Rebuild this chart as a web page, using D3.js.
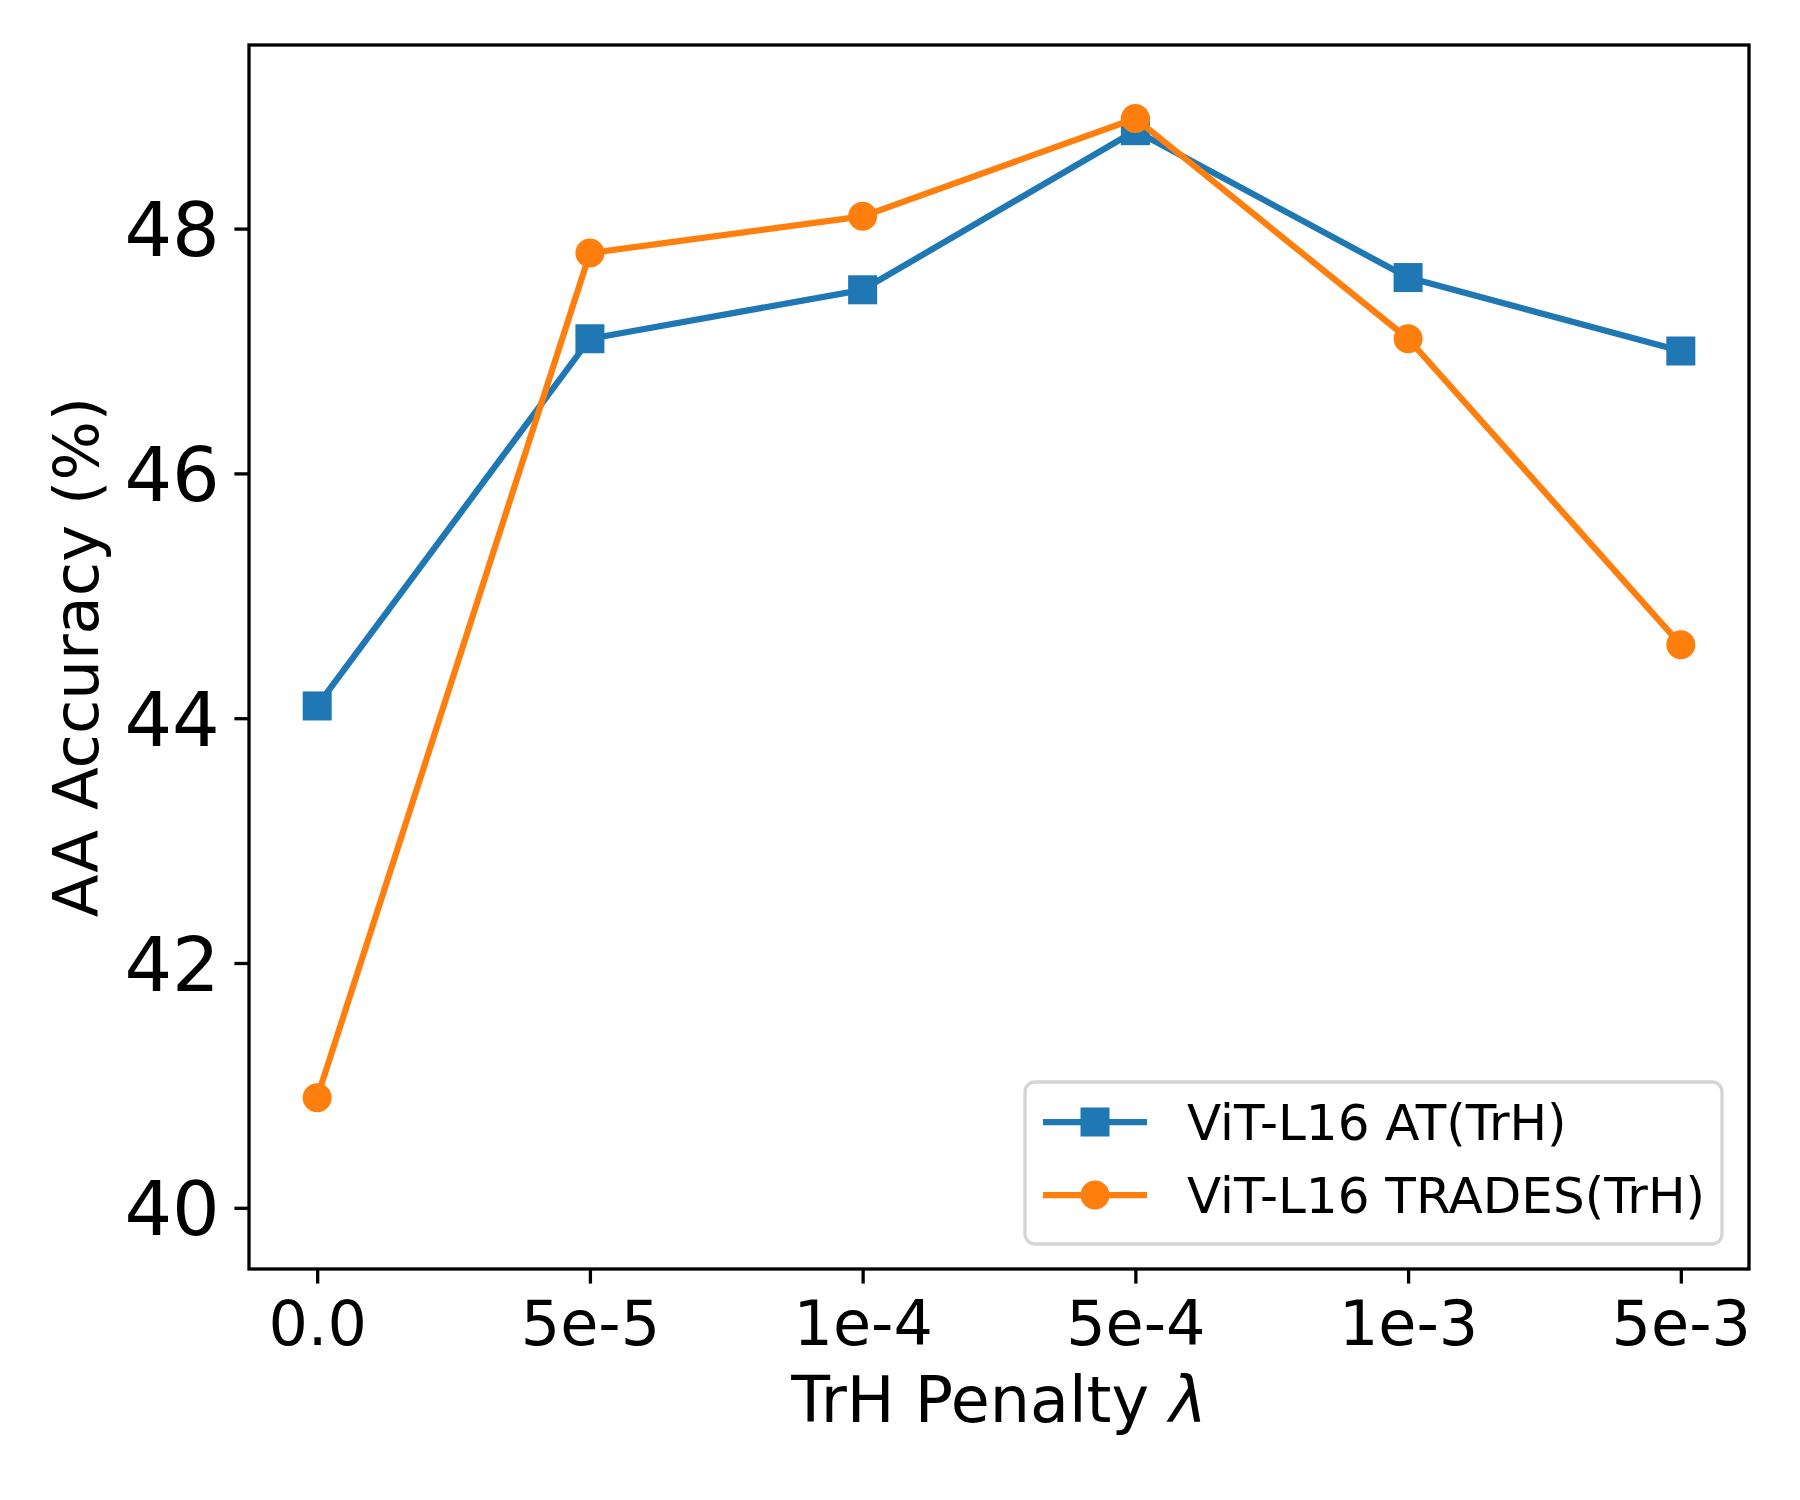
<!DOCTYPE html>
<html>
<head>
<meta charset="utf-8">
<script src="https://cdn.jsdelivr.net/npm/d3@7"></script>
<style>
  html, body { margin: 0; padding: 0; background: #fff; }
  svg { display: block; }
  text { font-family: "DejaVu Sans", sans-serif; fill: #000; }
</style>
</head>
<body>
<svg id="chart" width="1800" height="1500"></svg>
<script>
// ---- data ----
const categories = ["0.0", "5e-5", "1e-4", "5e-4", "1e-3", "5e-3"];
const atValues = [44.1, 47.1, 47.5, 48.8, 47.6, 47.0];
const tradesValues = [40.9, 47.8, 48.1, 48.9, 47.1, 44.6];
const yTicks = [40, 42, 44, 46, 48];
const seriesNames = ["ViT-L16 AT(TrH)", "ViT-L16 TRADES(TrH)"];
const seriesColors = ["#1f77b4", "#ff7f0e"];
const seriesMarkers = ["square", "circle"];

// ---- layout ----
const W = 1800, H = 1500;
const plot = { left: 249, right: 1749, top: 45, bottom: 1269 };
const svg = d3.select("#chart");
svg.append("rect").attr("width", W).attr("height", H).attr("fill", "#fff");

const x = d3.scalePoint().domain(categories).range([plot.left, plot.right]).padding(0.25);
const y = d3.scaleLinear().domain([39.5, 49.5]).range([plot.bottom, plot.top]);

const tickLen = 14.6, tickW = 3.3, tickPad = 14.6;

// x axis
const xAxis = d3.axisBottom(x).tickSize(tickLen).tickPadding(tickPad).tickSizeOuter(0);
const gx = svg.append("g").attr("transform", `translate(0,${plot.bottom})`).call(xAxis);
gx.select(".domain").remove();
gx.selectAll(".tick line").attr("stroke", "#000").attr("stroke-width", tickW);
gx.selectAll(".tick text").attr("font-size", 62).attr("font-family", "DejaVu Sans").attr("fill", "#000").attr("dy", "0.76em");

// y axis
const yAxis = d3.axisLeft(y).tickValues(yTicks).tickFormat(d3.format("d")).tickSize(tickLen).tickPadding(tickPad).tickSizeOuter(0);
const gy = svg.append("g").attr("transform", `translate(${plot.left},0)`).call(yAxis);
gy.select(".domain").remove();
gy.selectAll(".tick line").attr("stroke", "#000").attr("stroke-width", tickW);
gy.selectAll(".tick text").attr("font-size", 75).attr("font-family", "DejaVu Sans").attr("fill", "#000").attr("dy", "0.36em");

// series
const allSeries = [atValues, tradesValues];
const line = d3.line().x((d, i) => x(categories[i])).y(d => y(d));
const markerSize = 29;

allSeries.forEach((vals, si) => {
  const col = seriesColors[si];
  svg.append("path").datum(vals).attr("d", line)
    .attr("fill", "none").attr("stroke", col).attr("stroke-width", 6.25)
    .attr("stroke-linejoin", "round").attr("stroke-linecap", "square");
  const g = svg.append("g");
  if (seriesMarkers[si] === "square") {
    g.selectAll("rect").data(vals).enter().append("rect")
      .attr("x", (d, i) => x(categories[i]) - markerSize / 2)
      .attr("y", d => y(d) - markerSize / 2)
      .attr("width", markerSize).attr("height", markerSize).attr("fill", col);
  } else {
    g.selectAll("circle").data(vals).enter().append("circle")
      .attr("cx", (d, i) => x(categories[i]))
      .attr("cy", d => y(d))
      .attr("r", markerSize / 2).attr("fill", col);
  }
});

// frame
svg.append("rect").attr("x", plot.left).attr("y", plot.top)
  .attr("width", plot.right - plot.left).attr("height", plot.bottom - plot.top)
  .attr("fill", "none").attr("stroke", "#000").attr("stroke-width", 3.3);

// axis labels
const xl = svg.append("text").attr("x", (plot.left + plot.right) / 2).attr("y", 1422)
  .attr("text-anchor", "middle").attr("font-size", 63.5);
xl.append("tspan").text("TrH Penalty ");
xl.append("tspan").attr("font-style", "italic").text("λ");

svg.append("text")
  .attr("transform", `translate(98,${(plot.top + plot.bottom) / 2}) rotate(-90)`)
  .attr("text-anchor", "middle").attr("font-size", 62.5)
  .text("AA Accuracy (%)");

// legend
const lg = { left: 1025, right: 1722, top: 1082, bottom: 1244 };
svg.append("rect").attr("x", lg.left).attr("y", lg.top)
  .attr("width", lg.right - lg.left).attr("height", lg.bottom - lg.top)
  .attr("rx", 10).attr("ry", 10)
  .attr("fill", "#fff").attr("fill-opacity", 0.8)
  .attr("stroke", "#d5d5d5").attr("stroke-width", 3.3);
const rowY = [1122, 1195];
seriesNames.forEach((name, si) => {
  const col = seriesColors[si];
  const cy = rowY[si];
  svg.append("line").attr("x1", 1043).attr("x2", 1147).attr("y1", cy).attr("y2", cy)
    .attr("stroke", col).attr("stroke-width", 6.25);
  if (seriesMarkers[si] === "square") {
    svg.append("rect").attr("x", 1095 - markerSize / 2).attr("y", cy - markerSize / 2)
      .attr("width", markerSize).attr("height", markerSize).attr("fill", col);
  } else {
    svg.append("circle").attr("cx", 1095).attr("cy", cy).attr("r", markerSize / 2).attr("fill", col);
  }
  svg.append("text").attr("x", 1187).attr("y", cy).attr("dy", "0.36em")
    .attr("font-size", 50).text(name);
});
</script>
</body>
</html>
